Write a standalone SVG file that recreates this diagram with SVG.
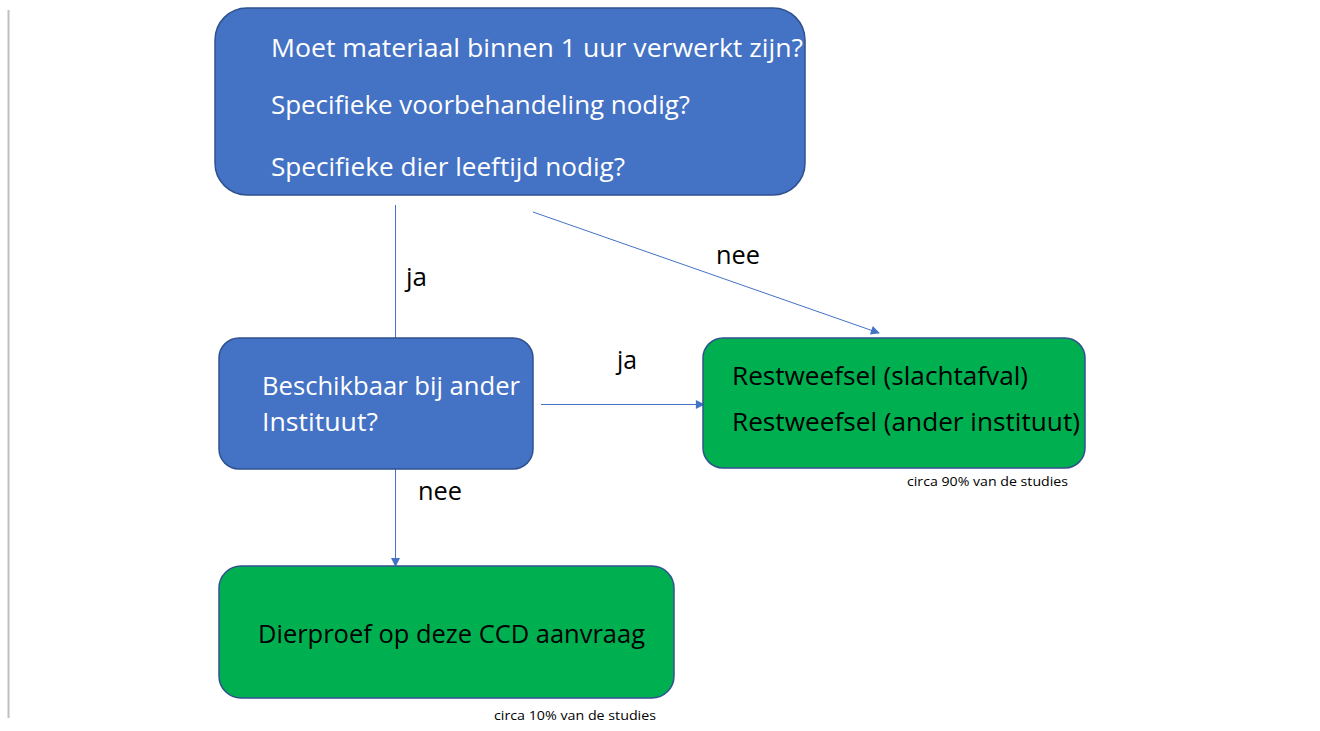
<svg xmlns="http://www.w3.org/2000/svg" width="1320" height="731" viewBox="0 0 1320 731">
<defs>
<marker id="ah" viewBox="0 0 10 10" refX="9" refY="5" markerWidth="10" markerHeight="9" markerUnits="userSpaceOnUse" orient="auto"><path d="M0,0 L10,5 L0,10 z" fill="#4472C4"/></marker>
<style>
.blue{fill:#4472C4;stroke:#2F528F;stroke-width:1.5}
.green{fill:#00B050;stroke:#2F528F;stroke-width:1.5}
.t{font-family:"Open Sans","Liberation Sans",sans-serif;font-size:25px}
.w{fill:#ffffff}
.k{fill:#000000}
.s{font-family:"Open Sans","Liberation Sans",sans-serif;font-size:13px;fill:#000}
.c{stroke:#4472C4;stroke-width:1;fill:none}
</style>
</defs>
<rect width="1320" height="731" fill="#fff"/>
<line x1="8.5" y1="10" x2="8.5" y2="718" stroke="#BFBFBF" stroke-width="2"/>
<g id="connectors">
<line class="c" x1="395.5" y1="205" x2="395.5" y2="338"/>
<line class="c" x1="533" y1="212" x2="879" y2="333" marker-end="url(#ah)"/>
<line class="c" x1="541" y1="404.5" x2="704" y2="404.5" marker-end="url(#ah)"/>
<line class="c" x1="395.5" y1="469" x2="395.5" y2="566" marker-end="url(#ah)"/>
<text class="t k" x="406" y="286" textLength="21" lengthAdjust="spacingAndGlyphs">ja</text>
<text class="t k" x="716" y="264" textLength="44" lengthAdjust="spacingAndGlyphs">nee</text>
<text class="t k" x="617" y="369" textLength="20" lengthAdjust="spacingAndGlyphs">ja</text>
<text class="t k" x="418" y="500" textLength="44" lengthAdjust="spacingAndGlyphs">nee</text>
</g>
<g id="q1">
<rect class="blue" x="215" y="8" width="590" height="187" rx="32"/>
<text class="t w" x="271" y="57" textLength="532" lengthAdjust="spacingAndGlyphs">Moet materiaal binnen 1 uur verwerkt zijn?</text>
<text class="t w" x="271" y="114" textLength="419" lengthAdjust="spacingAndGlyphs">Specifieke voorbehandeling nodig?</text>
<text class="t w" x="271" y="176" textLength="354" lengthAdjust="spacingAndGlyphs">Specifieke dier leeftijd nodig?</text>
</g>
<g id="q2">
<rect class="blue" x="219" y="338" width="314" height="131" rx="20"/>
<text class="t w" x="262" y="395" textLength="258" lengthAdjust="spacingAndGlyphs">Beschikbaar bij ander</text>
<text class="t w" x="262" y="431" textLength="116" lengthAdjust="spacingAndGlyphs">Instituut?</text>
</g>
<g id="rest">
<rect class="green" x="703" y="338" width="382" height="130" rx="20"/>
<text class="t k" x="732" y="385" textLength="296" lengthAdjust="spacingAndGlyphs">Restweefsel (slachtafval)</text>
<text class="t k" x="732" y="431" textLength="348" lengthAdjust="spacingAndGlyphs">Restweefsel (ander instituut)</text>
<text class="s" x="907" y="486" textLength="161" lengthAdjust="spacingAndGlyphs">circa 90% van de studies</text>
</g>
<g id="dier">
<rect class="green" x="219" y="566" width="455" height="132" rx="22"/>
<text class="t k" x="258" y="643" textLength="387" lengthAdjust="spacingAndGlyphs">Dierproef op deze CCD aanvraag</text>
<text class="s" x="494" y="720" textLength="162" lengthAdjust="spacingAndGlyphs">circa 10% van de studies</text>
</g>
</svg>
